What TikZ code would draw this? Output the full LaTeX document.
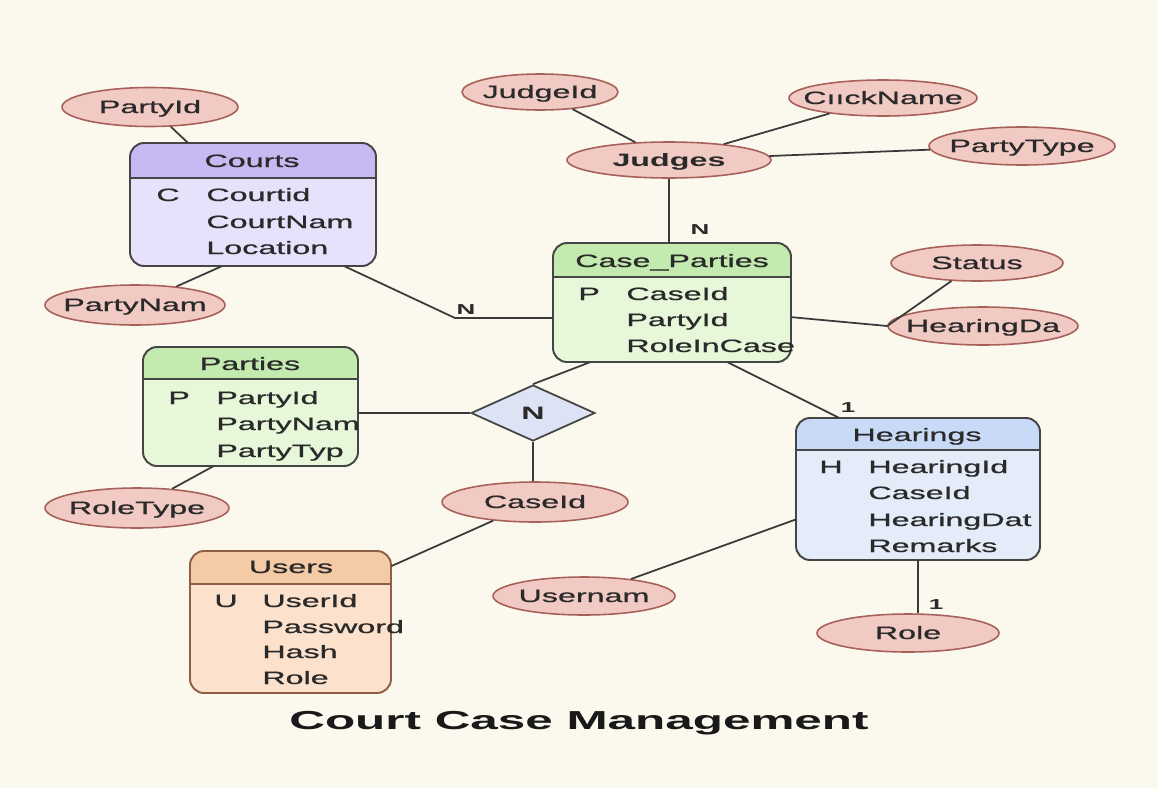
\documentclass[tikz,border=0pt]{standalone}
\usepackage{fontspec}
\setmainfont{Liberation Sans}
\newfontfamily\medfont{Liberation Sans}[FakeBold=0.6]
\usetikzlibrary{shapes.geometric,fit}
\definecolor{bg}{HTML}{FBF8EE}
\definecolor{ink}{HTML}{2A2A2A}
\definecolor{lncol}{HTML}{3A3A3A}
\definecolor{attrfill}{HTML}{F2CAC4}
\definecolor{attrdraw}{HTML}{A8605A}
\definecolor{crtH}{HTML}{C9B9F3}
\definecolor{crtB}{HTML}{E8E1FB}
\definecolor{grnH}{HTML}{C4EBAF}
\definecolor{grnB}{HTML}{E6F7DA}
\definecolor{bluH}{HTML}{C9DAF6}
\definecolor{bluB}{HTML}{E4ECFA}
\definecolor{orgH}{HTML}{F5CBA6}
\definecolor{orgB}{HTML}{FCE2CC}
\definecolor{usrD}{HTML}{8E5E45}
\definecolor{boxD}{HTML}{454545}
\definecolor{diaF}{HTML}{DDE3F4}
\newcommand{\wt}[1]{\scalebox{1.8}[1]{#1}}
\newcommand{\myentity}[9]{%
  \node[fit={(#2,#3) (#4,#5)}, inner sep=0pt, rounded corners=8pt, fill=#8] (#1) {};
  \begin{scope}
    \clip[rounded corners=8pt] (#2,#3) rectangle (#4,#5);
    \fill[#7] (#2,#3) rectangle (#4,#6);
  \end{scope}
  \draw[draw=#9, line width=1.1pt] (#2,#6) -- (#4,#6);
  \draw[draw=#9, line width=1.1pt, rounded corners=8pt] (#2,#3) rectangle (#4,#5);
}
\tikzset{
  attr/.style={ellipse, draw=attrdraw, fill=attrfill, line width=0.9pt, inner sep=0pt},
  txt/.style={inner sep=0pt, anchor=base, text=ink, font=\medfont\fontsize{10.2}{12}\selectfont},
  btxt/.style={txt, font=\fontsize{10.2}{12}\selectfont\bfseries},
  row/.style={txt, anchor=base west},
  card/.style={inner sep=0pt, text=ink, font=\fontsize{8.2}{10}\selectfont\bfseries},
  conn/.style={draw=lncol, line width=1pt},
  rel/.style={diamond, draw=boxD, fill=diaF, line width=1pt, inner sep=0pt}
}
\begin{document}
\begin{tikzpicture}[x=0.02cm, y=-0.02cm]
\fill[bg] (0,0) rectangle (1158,788);
\useasboundingbox (0,0) rectangle (1158,788);

\coordinate (nbend) at (455,318);

% ---------- entities ----------
\myentity{courts}{130}{143}{376}{266}{178}{crtH}{crtB}{boxD}
\myentity{cp}{553}{243}{791}{362}{277}{grnH}{grnB}{boxD}
\myentity{parties}{143}{347}{358}{466}{379}{grnH}{grnB}{boxD}
\myentity{users}{190}{551}{391}{693}{584}{orgH}{orgB}{usrD}
\myentity{hearings}{796}{418}{1040}{560}{450}{bluH}{bluB}{boxD}

% ---------- attributes ----------
\node[attr, minimum width=3.52cm, minimum height=0.78cm] (partyid) at (150,107) {};
\node[attr, minimum width=3.6cm, minimum height=0.8cm] (partynam) at (135,305) {};
\node[attr, minimum width=3.12cm, minimum height=0.72cm] (judgeid) at (540,92) {};
\node[attr, minimum width=3.76cm, minimum height=0.72cm] (clickname) at (883,98) {};
\node[attr, minimum width=4.08cm, minimum height=0.72cm] (judges) at (669,160) {};
\node[attr, minimum width=3.72cm, minimum height=0.76cm] (partytype) at (1022,146) {};
\node[attr, minimum width=3.44cm, minimum height=0.72cm] (status) at (977,263) {};
\node[attr, minimum width=3.8cm, minimum height=0.76cm] (hearingda) at (983,326) {};
\node[attr, minimum width=3.68cm, minimum height=0.8cm] (roletype) at (137,508) {};
\node[attr, minimum width=3.72cm, minimum height=0.8cm] (caseid) at (535,502) {};
\node[attr, minimum width=3.64cm, minimum height=0.76cm] (usernam) at (584,596) {};
\node[attr, minimum width=3.64cm, minimum height=0.76cm] (role) at (908,633) {};
\node[rel, minimum width=2.48cm, minimum height=1.12cm] (dia) at (533,413) {};

% ---------- connectors ----------
\draw[conn] (partyid) -- (courts);
\draw[conn] (partynam) -- (courts.243);
\draw[conn] (courts.-34) -- (nbend) -- (cp.west |- nbend);
\draw[conn] (judgeid) -- (judges);
\draw[conn] (clickname) -- (judges);
\draw[conn] (partytype) -- (judges);
\draw[conn] (judges.south) -- (judges.south |- cp.north);
\draw[conn] (cp.-7.4) -- (hearingda.west);
\draw[conn] (hearingda.west) -- (status);
\draw[conn] (cp.-47) -- (hearings.138);
\draw[conn] (dia.west) -- (parties.east |- dia.west);
\draw[conn] (dia.north) -- (cp.216);
\draw[conn] (dia.south) -- (dia.south |- caseid.north);
\draw[conn] (caseid) -- (users.29);
\draw[conn] (roletype) -- (parties.238);
\draw[conn] (usernam) -- (hearings.194);
\draw[conn] (hearings.south) -- (hearings.south |- role.north);

% ---------- attribute texts (base positions) ----------
\node[txt] (partyid-t) at (150,113) {\wt{PartyId}};
\node[txt] (partynam-t) at (135,311) {\wt{PartyNam}};
\node[txt] (judgeid-t) at (540,98) {\wt{JudgeId}};
\node[txt] (clickname-t) at (883,104) {\wt{CııckName}};
\node[btxt] (judges-t) at (669,166) {\wt{Judges}};
\node[txt] (partytype-t) at (1022,152) {\wt{PartyType}};
\node[txt] (status-t) at (977,269) {\wt{Status}};
\node[txt] (hearingda-t) at (983,332) {\wt{HearingDa}};
\node[txt] (roletype-t) at (137,514) {\wt{RoleType}};
\node[txt] (caseid-t) at (535,508) {\wt{CaseId}};
\node[txt] (usernam-t) at (584,602) {\wt{Usernam}};
\node[txt] (role-t) at (908,639) {\wt{Role}};
\node[btxt] (dia-t) at (533,419) {\wt{N}};

% ---------- entity texts ----------
\node[txt] (courts-h) at (252,167) {\wt{Courts}};
\node[row] (courts-k) at (156,201) {\wt{C}};
\node[row] (courts-r1) at (206,201) {\wt{Courtid}};
\node[row] (courts-r2) at (206,228) {\wt{CourtNam}};
\node[row] (courts-r3) at (206,254) {\wt{Location}};

\node[txt] (cp-h) at (672,267) {\wt{Case\_Parties}};
\node[row] (cp-k) at (578,300) {\wt{P}};
\node[row] (cp-r1) at (626,300) {\wt{CaseId}};
\node[row] (cp-r2) at (626,326) {\wt{PartyId}};
\node[row] (cp-r3) at (626,352) {\wt{RoleInCase}};

\node[txt] (parties-h) at (250,370) {\wt{Parties}};
\node[row] (parties-k) at (168,404) {\wt{P}};
\node[row] (parties-r1) at (216,404) {\wt{PartyId}};
\node[row] (parties-r2) at (216,430) {\wt{PartyNam}};
\node[row] (parties-r3) at (216,457) {\wt{PartyTyp}};

\node[txt] (users-h) at (291,573) {\wt{Users}};
\node[row] (users-k) at (214,607) {\wt{U}};
\node[row] (users-r1) at (262,607) {\wt{UserId}};
\node[row] (users-r2) at (262,633) {\wt{Password}};
\node[row] (users-r3) at (262,658) {\wt{Hash}};
\node[row] (users-r4) at (262,684) {\wt{Role}};

\node[txt] (hearings-h) at (917,441) {\wt{Hearings}};
\node[row] (hearings-k) at (819,473) {\wt{H}};
\node[row] (hearings-r1) at (868,473) {\wt{HearingId}};
\node[row] (hearings-r2) at (868,499) {\wt{CaseId}};
\node[row] (hearings-r3) at (868,526) {\wt{HearingDat}};
\node[row] (hearings-r4) at (868,552) {\wt{Remarks}};

% ---------- cardinalities ----------
\node[card] (c1) at (466,310) {\wt{N}};
\node[card] (c2) at (700,230) {\wt{N}};
\node[card] (c3) at (848,408) {\wt{1}};
\node[card] (c4) at (936,605) {\wt{1}};

% ---------- title ----------
\node[inner sep=0pt, text=black!90, font=\fontsize{14.8}{18}\selectfont\bfseries] (title) at (579,723) {\scalebox{1.9}[1]{Court Case Management}};
\end{tikzpicture}
\end{document}
